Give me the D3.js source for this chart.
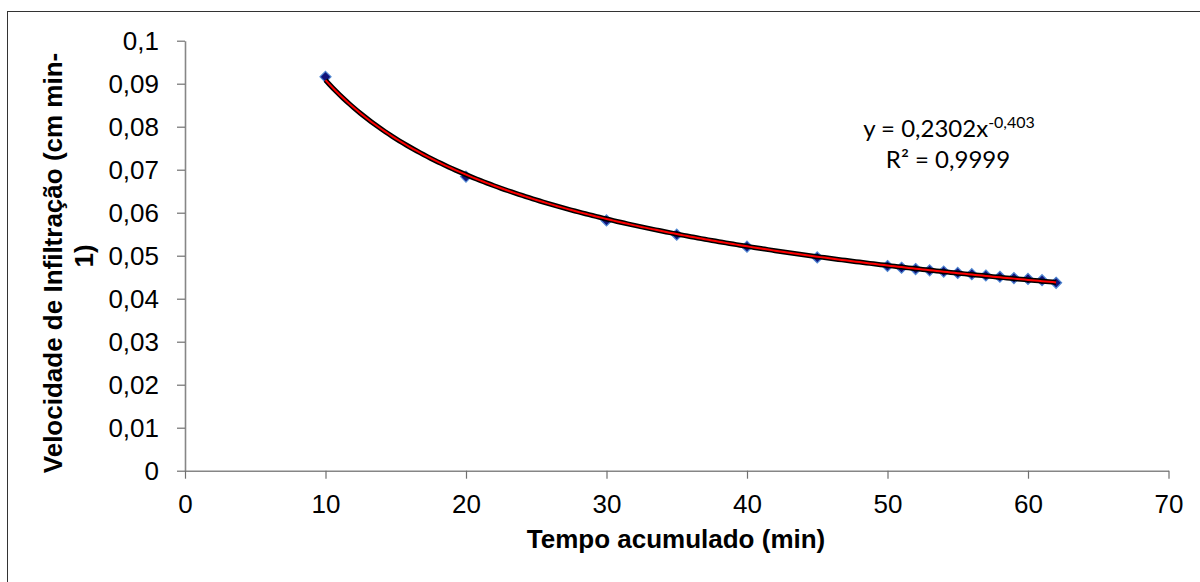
<!DOCTYPE html>
<html><head><meta charset="utf-8">
<script src="https://cdn.jsdelivr.net/npm/d3@7"></script>
<style>body{margin:0;background:#fff}svg{display:block}</style>
</head><body>
<svg id="c" width="1200" height="582"></svg>
<script>
// ---- data ----
const timeMin = [10, 20, 30, 35, 40, 45, 50, 51, 52, 53, 54, 55, 56, 57, 58, 59, 60, 61, 62];
const infiltration = [0.0916, 0.0684, 0.0582, 0.0549, 0.0521, 0.0496, 0.0476, 0.0472, 0.0469, 0.0466,
                      0.0463, 0.0460, 0.0457, 0.0454, 0.0451, 0.0448, 0.0446, 0.0443, 0.0437];
const xTicks = [0, 10, 20, 30, 40, 50, 60, 70];
const xTickLabels = ["0", "10", "20", "30", "40", "50", "60", "70"];
const yTicks = [0, 0.01, 0.02, 0.03, 0.04, 0.05, 0.06, 0.07, 0.08, 0.09, 0.1];
const yTickLabels = ["0", "0,01", "0,02", "0,03", "0,04", "0,05", "0,06", "0,07", "0,08", "0,09", "0,1"];
const xTitle = "Tempo acumulado (min)";
const yTitleLines = ["Velocidade de Infiltração (cm min-", "1)"];
const eqCoef = "0,2302";
const eqExp = "-0,403";
const eqR2 = "0,9999";

// ---- layout ----
const svg = d3.select("#c");
const X0 = 185, X1 = 1168.5, Y0 = 470.7, Y1 = 40.7;
const x = d3.scaleLinear().domain([0, 70]).range([X0, X1]);
const y = d3.scaleLinear().domain([0, 0.1]).range([Y0, Y1]);
const FONT = "'Liberation Sans', Arial, sans-serif";

// frame
svg.append("rect").attr("x", 7.5).attr("y", 11.5).attr("width", 1400).attr("height", 800)
  .attr("fill", "none").attr("stroke", "#333").attr("stroke-width", 1);

// axes
const yAxis = d3.axisLeft(y).tickValues(yTicks).tickFormat((d, i) => yTickLabels[i])
  .tickSizeInner(8).tickSizeOuter(0).tickPadding(18);
const gy = svg.append("g").attr("transform", `translate(${X0},0)`).call(yAxis);
const xAxis = d3.axisBottom(x).tickValues(xTicks).tickFormat((d, i) => xTickLabels[i])
  .tickSizeInner(8).tickSizeOuter(0).tickPadding(16);
const gx = svg.append("g").attr("transform", `translate(0,${Y0})`).call(xAxis);

[gx, gy].forEach(g => {
  g.select(".domain").attr("stroke", "#868686").attr("stroke-width", 1.6);
  g.selectAll(".tick line").attr("stroke", "#707070").attr("stroke-width", 1.2);
  g.selectAll(".tick text").attr("fill", "#000").style("font-family", FONT).style("font-size", "26px");
});

// axis titles
svg.append("text").attr("x", 676).attr("y", 548).attr("text-anchor", "middle")
  .style("font-family", FONT).style("font-size", "26px").style("font-weight", "bold").text(xTitle);
const yt = [[62, 263], [93, 256]];
yTitleLines.forEach((t, i) => {
  svg.append("text").attr("transform", `translate(${yt[i][0]},${yt[i][1]}) rotate(-90)`)
    .attr("text-anchor", "middle").style("font-family", FONT).style("font-size", "26px")
    .style("font-weight", "bold").text(t);
});

// markers (diamonds)
const pts = timeMin.map((t, i) => [t, infiltration[i]]);
const r = 5.5;
svg.append("g").selectAll("path").data(pts).join("path")
  .attr("d", d => {
    const cx = x(d[0]), cy = y(d[1]);
    return `M${cx},${cy - r}L${cx + r},${cy}L${cx},${cy + r}L${cx - r},${cy}Z`;
  })
  .attr("fill", "#10137a").attr("stroke", "#4f86d0").attr("stroke-width", 1.2);

// power trendline fitted from the data (least squares in log-log space)
const lx = timeMin.map(Math.log), ly = infiltration.map(Math.log);
const mx = d3.mean(lx), my = d3.mean(ly);
const b = d3.sum(lx.map((v, i) => (v - mx) * (ly[i] - my))) / d3.sum(lx.map(v => (v - mx) ** 2));
const a = Math.exp(my - b * mx);
const tMin = d3.min(timeMin), tMax = d3.max(timeMin);
const trend = d3.range(tMin, tMax + 0.001, 0.25).map(t => [t, a * Math.pow(t, b)]);
const line = d3.line().x(d => x(d[0])).y(d => y(d[1]));
svg.append("path").datum(trend).attr("d", line).attr("fill", "none")
  .attr("stroke", "#000").attr("stroke-width", 5).attr("stroke-linejoin", "round");
svg.append("path").datum(trend).attr("d", line).attr("fill", "none")
  .attr("stroke", "#ff0000").attr("stroke-width", 2);

// equation label
const EQF = "Lato, 'Open Sans', sans-serif";
const eq = svg.append("text").attr("x", 949).attr("y", 137).attr("text-anchor", "middle")
  .style("font-family", EQF).style("font-size", "24px").attr("fill", "#000");
eq.append("tspan").text("y = " + eqCoef + "x");
eq.append("tspan").attr("dy", -9).style("font-size", "16px").text(eqExp);
svg.append("text").attr("x", 948).attr("y", 168).attr("text-anchor", "middle")
  .style("font-family", EQF).style("font-size", "24px").attr("fill", "#000")
  .text("R² = " + eqR2);
</script>
</body></html>
